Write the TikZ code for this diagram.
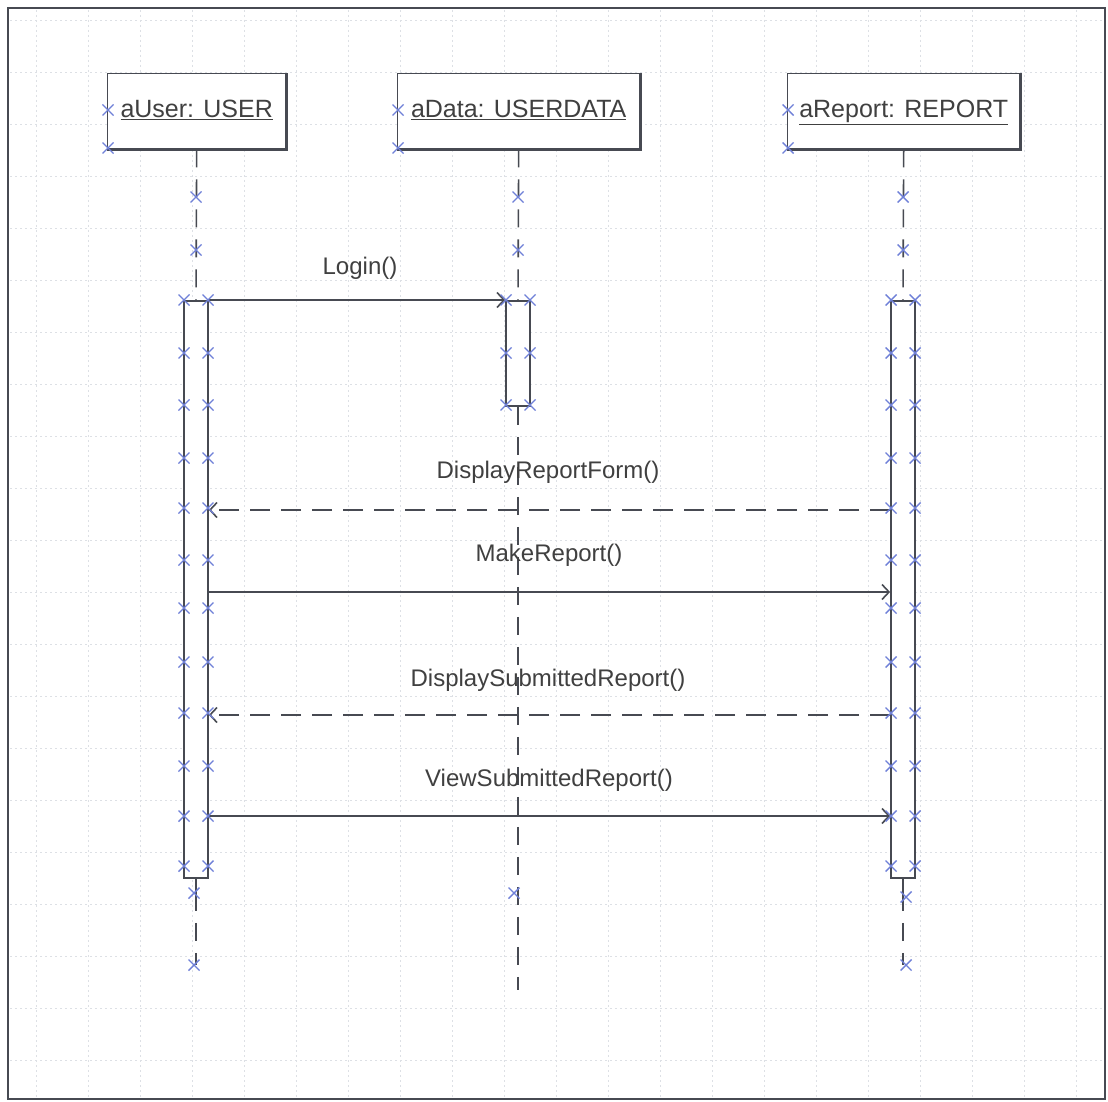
\documentclass[tikz,border=0pt]{standalone}
\usepackage{fontspec}
\setmainfont{Liberation Sans}
\usetikzlibrary{arrows.meta}
\definecolor{ln}{HTML}{474A52}
\definecolor{xc}{HTML}{6F80D8}
\definecolor{tx}{HTML}{404040}
\definecolor{gridc}{HTML}{DDE0E5}
\begin{document}
\begin{tikzpicture}[x=1pt,y=-1pt,
  gridline/.style={gridc, line width=0.8pt, dash pattern=on 2pt off 3pt},
  obj/.style={draw=ln, line width=1.4pt, fill=white, inner sep=0pt, anchor=north west, text=tx,
    text height=19pt, text depth=6pt, font=\fontsize{25}{28}\selectfont},
  act/.style={draw=ln, line width=1.8pt, fill=white, minimum width=24pt, inner sep=0pt, anchor=north},
  life/.style={ln, line width=1.6pt, dash pattern=on 18pt off 12pt},
  msg/.style={ln, line width=1.7pt, -{Straight Barb[length=7pt,width=15pt,line width=1.6pt]}},
  ret/.style={msg, dash pattern=on 20pt off 11pt},
  lbl/.style={text=tx, font=\fontsize{24}{28}\selectfont, inner sep=0pt},
  xm/.pic={\draw[xc, line width=1.4pt] (-5.5,-5.5)--(5.5,5.5) (-5.5,5.5)--(5.5,-5.5);}
]
\useasboundingbox (0,0) rectangle (1108,1102);
\fill[white] (0,0) rectangle (1108,1102);
% grid
\foreach \x in {36,88,...,1100} \draw[gridline] (\x,10) -- (\x,1097);
\foreach \y in {20,72,...,1096} \draw[gridline] (10,\y) -- (1103,\y);
% frame
\draw[ln, line width=1.8pt] (8,8) rectangle (1105,1099);

% objects
\node[obj, minimum width=178pt, minimum height=75pt] (u) at (107,73) {\underline{aUser: USER}};
\node[obj, minimum width=242pt, minimum height=75pt] (d) at (397,73) {\underline{aData: USERDATA}};
\node[obj, minimum width=232pt, minimum height=75pt] (r) at (787,73) {\underline{aReport: REPORT}};
\foreach \n in {u,d,r}
  \draw[ln, line width=3pt] (\n.south west) -- (\n.south east) -- (\n.north east);

% activation bars
\node[act, minimum height=577pt] (ua) at (196,300) {};
\node[act, minimum height=105pt] (da) at (518,300) {};
\node[act, minimum height=577pt] (ra) at (903,300) {};

% end points
\coordinate (ue) at (196,965);
\coordinate (de) at (518,990);
\coordinate (re) at (903,965);

% lifelines
\draw[life] (u.south) -- (ua.north);
\draw[life] (d.south) -- (da.north);
\draw[life] (r.south) -- (ra.north);
\draw[ln, line width=1.6pt] (ua.south) -- ++(0,14) coordinate (ub);
\draw[life] (ub) -- (ue);
\draw[life] (da.south) -- (de);
\draw[ln, line width=1.6pt] (ra.south) -- ++(0,14) coordinate (rb);
\draw[life] (rb) -- (re);

% messages
\draw[msg] (ua.east |- 0,300) -- (da.west |- 0,300);
\node[lbl] (l1) at (360,268) {Login()};
\draw[ret] (ra.west |- 0,510) -- (ua.east |- 0,510);
\node[lbl] (l2) at (548,472) {DisplayReportForm()};
\draw[msg] (ua.east |- 0,592) -- (ra.west |- 0,592);
\node[lbl] (l3) at (549,555) {MakeReport()};
\draw[ret] (ra.west |- 0,715) -- (ua.east |- 0,715);
\node[lbl] (l4) at (548,680) {DisplaySubmittedReport()};
\draw[msg] (ua.east |- 0,816) -- (ra.west |- 0,816);
\node[lbl] (l5) at (549,780) {ViewSubmittedReport()};

% x marks on boxes
\foreach \x in {108,398,788} {
  \pic at (\x,110) {xm};
  \pic at (\x,148) {xm};
}
% x marks on lifelines above bars
\foreach \x in {196,518,903} {
  \pic at (\x,197) {xm};
  \pic at (\x,250) {xm};
}
% x marks on activation bars
\foreach \y in {300,353,405,458,508,560,608,662,713,766,816,866} {
  \pic at (184,\y) {xm};
  \pic at (208,\y) {xm};
  \pic at (891,\y) {xm};
  \pic at (915,\y) {xm};
}
\foreach \y in {300,353,405} {
  \pic at (506,\y) {xm};
  \pic at (530,\y) {xm};
}
% x marks at ends
\pic at (194,893) {xm};
\pic at (194,965) {xm};
\pic at (514,893) {xm};
\pic at (906,897) {xm};
\pic at (906,965) {xm};
\end{tikzpicture}
\end{document}
